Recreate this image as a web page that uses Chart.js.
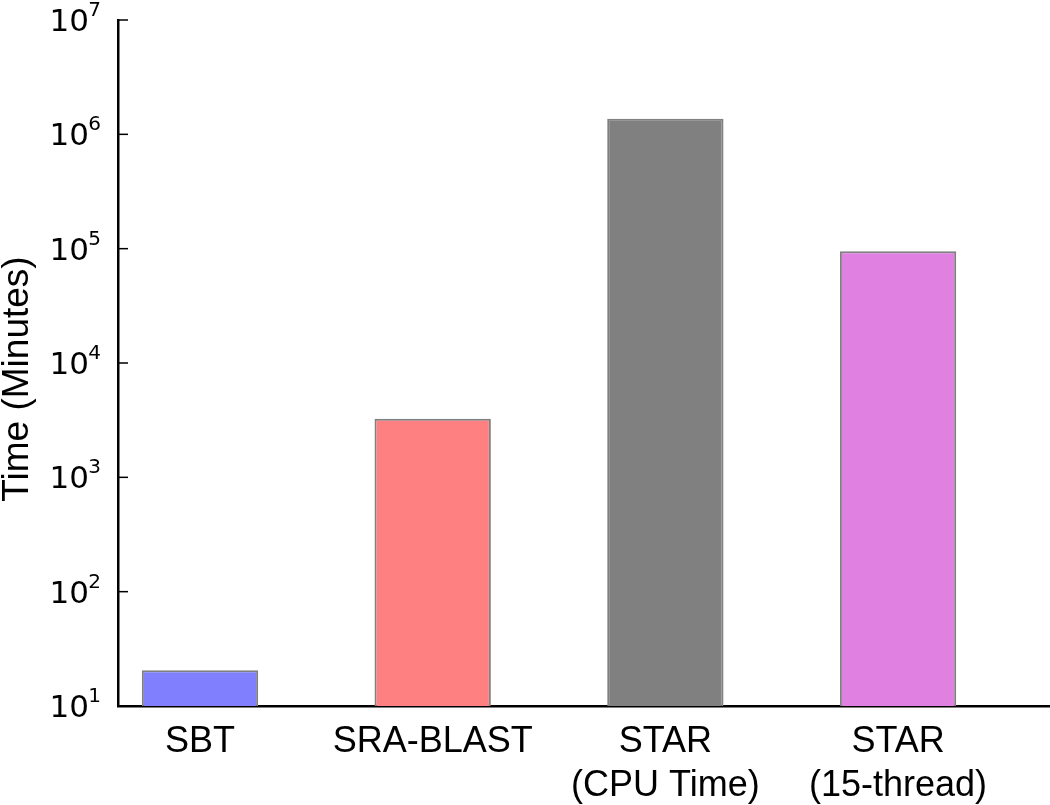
<!DOCTYPE html>
<html><head><meta charset="utf-8">
<script src="https://cdn.jsdelivr.net/npm/chart.js@4"></script>
<style>html,body{margin:0;padding:0;background:#fff;overflow:hidden;}</style>
</head><body>
<canvas id="c" width="1050" height="805"></canvas>
<script>
const categories = [['SBT'], ['SRA-BLAST'], ['STAR', '(CPU Time)'], ['STAR', '(15-thread)']];
const timeMinutes = [20.5, 3250, 1370000, 95000];
const barColors = ['#8080ff', '#ff8080', '#808080', '#e080e0'];
const yTickExponents = [1, 2, 3, 4, 5, 6, 7];
const yTitle = 'Time (Minutes)';

const customAxis = {
  id: 'customAxis',
  afterDraw(chart) {
    const ctx = chart.ctx, ys = chart.scales.y, area = chart.chartArea;
    ctx.save();
    ctx.strokeStyle = '#000';
    ctx.fillStyle = '#000';
    ctx.lineWidth = 1.5;
    yTickExponents.forEach(e => {
      const py = ys.getPixelForValue(Math.pow(10, e));
      ctx.beginPath();
      ctx.moveTo(area.left, py);
      ctx.lineTo(area.left + 10, py);
      ctx.stroke();
      ctx.textBaseline = 'alphabetic';
      ctx.font = '31px "DejaVu Sans"';
      ctx.textAlign = 'left';
      ctx.fillText('10', 49.5, py + 11);
      ctx.font = '20px "DejaVu Sans"';
      ctx.textAlign = 'right';
      ctx.fillText(String(e), 101, py - 4);
    });
    ctx.translate(27.5, 379);
    ctx.rotate(-Math.PI / 2);
    ctx.font = '37px "Liberation Sans"';
    ctx.textAlign = 'center';
    ctx.textBaseline = 'alphabetic';
    ctx.fillText(yTitle, 0, 0);
    ctx.restore();
  }
};

new Chart(document.getElementById('c'), {
  type: 'bar',
  data: {
    datasets: [{
      data: timeMinutes.map((v, i) => ({ x: i, y: v })),
      backgroundColor: barColors,
      borderColor: '#808080',
      borderWidth: 2,
      barPercentage: 0.5,
      categoryPercentage: 1.0
    }]
  },
  options: {
    responsive: false,
    animation: false,
    devicePixelRatio: 1,
    layout: { padding: { top: 20, left: 0, right: 0, bottom: 0 } },
    plugins: { legend: { display: false }, tooltip: { enabled: false } },
    scales: {
      x: {
        type: 'linear', min: -0.3524, max: 3.653, offset: false,
        afterBuildTicks: s => { s.ticks = categories.map((c, i) => ({ value: i })); },
        afterFit: s => { s.height = 99; },
        ticks: {
          autoSkip: false, maxRotation: 0, minRotation: 0, padding: 14, color: '#000',
          font: { family: '"Liberation Sans"', size: 36, lineHeight: 1.23 },
          callback: v => categories[v]
        },
        grid: { display: true, drawOnChartArea: false, drawTicks: false },
        border: { display: true, color: '#000', width: 2.5 }
      },
      y: {
        type: 'logarithmic', min: 10, max: 1e7,
        afterBuildTicks: s => { s.ticks = yTickExponents.map(e => ({ value: Math.pow(10, e) })); },
        afterFit: s => { s.width = 118; },
        ticks: { display: false },
        grid: { display: true, drawOnChartArea: false, drawTicks: false },
        border: { display: true, color: '#000', width: 2.5 }
      }
    }
  },
  plugins: [customAxis]
});
</script>
</body></html>
